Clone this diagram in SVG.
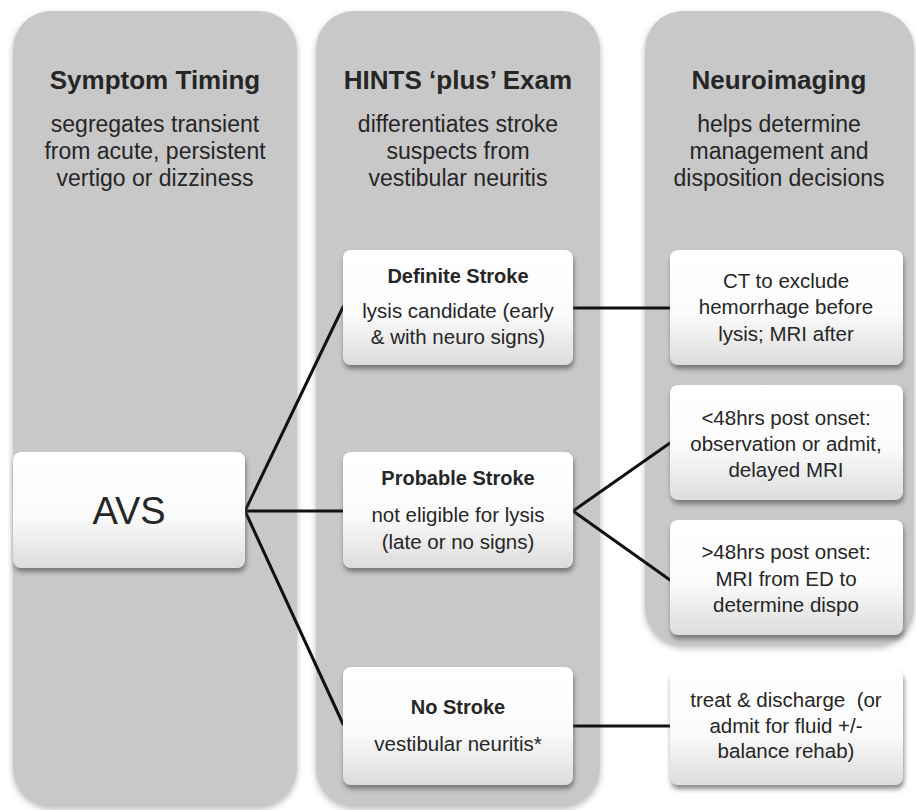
<svg xmlns="http://www.w3.org/2000/svg" width="916" height="810" viewBox="0 0 916 810">
<defs>
<linearGradient id="boxg" x1="0" y1="0" x2="0" y2="1">
<stop offset="0" stop-color="#ffffff"/>
<stop offset="0.55" stop-color="#fbfbfb"/>
<stop offset="1" stop-color="#dcdcdc"/>
</linearGradient>
<filter id="sh" x="-10%" y="-10%" width="125%" height="130%">
<feDropShadow dx="1" dy="4" stdDeviation="2.5" flood-color="#555" flood-opacity="0.7"/>
</filter>
<filter id="csh" x="-10%" y="-5%" width="120%" height="110%">
<feDropShadow dx="0" dy="3" stdDeviation="3" flood-color="#888" flood-opacity="0.6"/>
</filter>
</defs>
<style>
.col{fill:#c8c8c8;filter:url(#csh)}
.box{fill:url(#boxg);filter:url(#sh)}
text{font-family:"Liberation Sans",Arial,sans-serif;fill:#262626;text-anchor:middle}
.h{font-size:26px;font-weight:bold}
.s{font-size:23px}
.t{font-size:20px;font-weight:bold}
.b{font-size:20.5px}
.avs{font-size:38px}
.conn line{stroke:#111;stroke-width:3;stroke-linecap:round}
</style>
<rect width="916" height="810" fill="#ffffff"/>
<g id="col-timing">
<rect class="col" x="13" y="11" width="284" height="795" rx="38"/>
<text class="h" x="155" y="89">Symptom Timing</text>
<text class="s" x="155" y="132">segregates transient</text>
<text class="s" x="155" y="159">from acute, persistent</text>
<text class="s" x="155" y="186">vertigo or dizziness</text>
</g>
<g id="col-hints">
<rect class="col" x="316" y="11" width="284" height="795" rx="38"/>
<text class="h" x="458" y="89">HINTS ‘plus’ Exam</text>
<text class="s" x="458" y="132">differentiates stroke</text>
<text class="s" x="458" y="159">suspects from</text>
<text class="s" x="458" y="186">vestibular neuritis</text>
</g>
<g id="col-imaging">
<rect class="col" x="645" y="11" width="269" height="634" rx="38"/>
<text class="h" x="779" y="89">Neuroimaging</text>
<text class="s" x="779" y="132">helps determine</text>
<text class="s" x="779" y="159">management and</text>
<text class="s" x="779" y="186">disposition decisions</text>
</g>
<g class="conn" id="connectors">
<line x1="245" y1="511" x2="343" y2="307"/>
<line x1="245" y1="511" x2="343" y2="511"/>
<line x1="245" y1="511" x2="343" y2="724"/>
<line x1="573" y1="308" x2="670" y2="308"/>
<line x1="573" y1="511" x2="670" y2="443"/>
<line x1="573" y1="511" x2="670" y2="580"/>
<line x1="573" y1="726" x2="670" y2="726"/>
</g>
<g id="avs">
<rect class="box" x="13" y="452" width="232" height="116" rx="8"/>
<text class="avs" x="129" y="524">AVS</text>
</g>
<g id="definite">
<rect class="box" x="343" y="250" width="230" height="115" rx="8"/>
<text class="t" x="458" y="283">Definite Stroke</text>
<text class="b" x="458" y="318">lysis candidate (early</text>
<text class="b" x="458" y="344">&amp; with neuro signs)</text>
</g>
<g id="probable">
<rect class="box" x="343" y="452" width="230" height="116" rx="8"/>
<text class="t" x="458" y="485">Probable Stroke</text>
<text class="b" x="458" y="522">not eligible for lysis</text>
<text class="b" x="458" y="549">(late or no signs)</text>
</g>
<g id="nostroke">
<rect class="box" x="343" y="667" width="230" height="118" rx="8"/>
<text class="t" x="458" y="714">No Stroke</text>
<text class="b" x="458" y="751">vestibular neuritis*</text>
</g>
<g id="ct">
<rect class="box" x="670" y="250" width="233" height="115" rx="8"/>
<text class="b" x="786" y="288">CT to exclude</text>
<text class="b" x="786" y="314">hemorrhage before</text>
<text class="b" x="786" y="341">lysis; MRI after</text>
</g>
<g id="lt48">
<rect class="box" x="670" y="385" width="233" height="115" rx="8"/>
<text class="b" x="786" y="425">&lt;48hrs post onset:</text>
<text class="b" x="786" y="451">observation or admit,</text>
<text class="b" x="786" y="477">delayed MRI</text>
</g>
<g id="gt48">
<rect class="box" x="670" y="520" width="233" height="115" rx="8"/>
<text class="b" x="786" y="559">&gt;48hrs post onset:</text>
<text class="b" x="786" y="586">MRI from ED to</text>
<text class="b" x="786" y="612">determine dispo</text>
</g>
<g id="treat">
<rect class="box" x="670" y="670" width="233" height="115" rx="8"/>
<text class="b" x="786" y="707">treat &amp; discharge&#160; (or</text>
<text class="b" x="786" y="733">admit for fluid +/-</text>
<text class="b" x="786" y="758">balance rehab)</text>
</g>
</svg>
